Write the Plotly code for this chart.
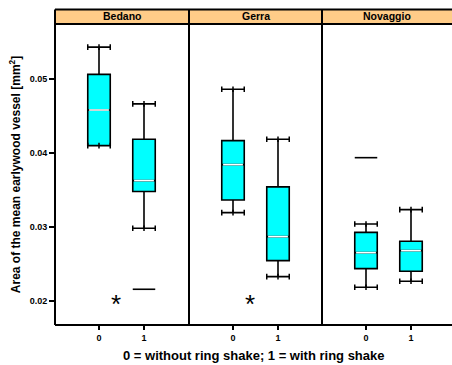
import plotly.graph_objects as go

sites = ["Bedano", "Gerra", "Novaggio"]
groups = [0, 1]
tick_labels = ["0", "1"]

# box statistics per site, order: group 0, group 1
lower = {"Bedano": [0.0410, 0.02985], "Gerra": [0.03196, 0.02332], "Novaggio": [0.02189, 0.0227]}
q1 = {"Bedano": [0.0410, 0.0348], "Gerra": [0.03367, 0.02548], "Novaggio": [0.02440, 0.02405]}
median = {"Bedano": [0.0458, 0.03628], "Gerra": [0.03843, 0.02872], "Novaggio": [0.02656, 0.02683]}
q3 = {"Bedano": [0.0506, 0.04186], "Gerra": [0.04167, 0.03543], "Novaggio": [0.0293, 0.0281]}
upper = {"Bedano": [0.05428, 0.04663], "Gerra": [0.0486, 0.04186], "Novaggio": [0.03043, 0.03236]}

# outliers: (site, group, value)
outlier_site = ["Bedano", "Novaggio"]
outlier_group = [1, 0]
outlier_value = [0.02162, 0.03937]

# significance markers
star_site = ["Bedano", "Gerra"]
star_x = [0.38, 0.37]
star_y = [0.0200, 0.0200]

y_ticks = [0.02, 0.03, 0.04, 0.05]
y_tick_text = ["0.02", "0.03", "0.04", "0.05"]

FONT = "Liberation Sans, Arial, sans-serif"
W, H = 452, 365
ML, MR, MT, MB = 55, 0, 24, 40
PW = W - ML - MR
PH = H - MT - MB
panel_px = [(0, 134), (134, 267), (267, PW)]
unit = 45.0
zero_off = 44.0

fig = go.Figure()
box_w = 0.5
for i, s in enumerate(sites):
    xa = "x" if i == 0 else f"x{i+1}"
    fig.add_trace(go.Box(
        x=groups, q1=q1[s], median=median[s], q3=q3[s],
        lowerfence=lower[s], upperfence=upper[s],
        width=box_w, whiskerwidth=1, boxpoints=False,
        fillcolor="#00FFFF", line=dict(color="black", width=1.6),
        xaxis=xa, yaxis="y", showlegend=False, hoverinfo="skip"))
    # white medians
    for g, m in zip(groups, median[s]):
        fig.add_trace(go.Scatter(
            x=[g - box_w / 2 + 0.03, g + box_w / 2 - 0.03], y=[m, m], mode="lines",
            line=dict(color="white", width=1.6), xaxis=xa, yaxis="y",
            showlegend=False, hoverinfo="skip"))
    # cap end ticks
    for g, lo, hi in zip(groups, lower[s], upper[s]):
        fig.add_trace(go.Scatter(
            x=[g - box_w / 2, g, g + box_w / 2] * 2,
            y=[hi] * 3 + [lo] * 3, mode="markers",
            marker=dict(symbol="line-ns", size=4, line=dict(color="black", width=1.5)),
            xaxis=xa, yaxis="y", showlegend=False, hoverinfo="skip"))

for s, g, v in zip(outlier_site, outlier_group, outlier_value):
    i = sites.index(s)
    xa = "x" if i == 0 else f"x{i+1}"
    fig.add_trace(go.Scatter(
        x=[g - box_w / 2, g + box_w / 2], y=[v, v], mode="lines",
        line=dict(color="black", width=1.6), xaxis=xa, yaxis="y",
        showlegend=False, hoverinfo="skip"))

for s, sx, sy in zip(star_site, star_x, star_y):
    i = sites.index(s)
    xa = "x" if i == 0 else f"x{i+1}"
    fig.add_annotation(
        x=sx, y=sy, xref=xa, yref="y", text="*", showarrow=False,
        font=dict(size=26, color="black", family=FONT),
        xanchor="center", yanchor="middle", yshift=-3)

layout = dict(
    width=W, height=H, margin=dict(l=ML, r=MR, t=MT, b=MB, autoexpand=False),
    paper_bgcolor="white", plot_bgcolor="white",
    font=dict(family=FONT, color="black"),
    yaxis=dict(range=[0.0168, 0.0574], tickvals=y_ticks,
               ticktext=[f"<b>{t}</b>" for t in y_tick_text],
               ticks="outside", ticklen=5, tickwidth=1.5, tickcolor="black",
               showgrid=False, zeroline=False, showline=False, automargin=False,
               tickfont=dict(size=9, family=FONT, color="black"),
               title=dict(text="<b>Area of the mean earlywood vessel [mm<sup>2</sup>]</b>",
                          font=dict(size=12, color="black"), standoff=6)),
    shapes=[], annotations=list(fig.layout.annotations),
)
for i, s in enumerate(sites):
    a, b = panel_px[i]
    key = "xaxis" if i == 0 else f"xaxis{i+1}"
    lo = -zero_off / unit
    hi = lo + (b - a) / unit
    layout[key] = dict(domain=[a / PW, b / PW], range=[lo, hi],
                       tickvals=groups, ticktext=[f"<b>{t}</b>" for t in tick_labels],
                       ticks="outside", ticklen=4, tickwidth=1.5, tickcolor="black",
                       showgrid=False, zeroline=False, showline=False, automargin=False,
                       tickfont=dict(size=9, color="black"), anchor="y")
    # strip header
    layout["shapes"].append(dict(type="rect", xref="paper", yref="paper",
                                 x0=a / PW, x1=b / PW, y0=1, y1=1 + 14.5 / PH,
                                 fillcolor="#FFCC88", line=dict(width=0), layer="below"))
    layout["annotations"].append(dict(text=f"<b>{s}</b>", xref="paper", yref="paper",
                                      x=(a + b) / 2 / PW, y=1 + 7.5 / PH, showarrow=False,
                                      font=dict(size=10.5, color="black"),
                                      xanchor="center", yanchor="middle"))

line = dict(color="black", width=2)
top = 1 + 14.5 / PH
for xp in [0, 134 / PW, 267 / PW]:
    layout["shapes"].append(dict(type="line", xref="paper", yref="paper", x0=xp, x1=xp,
                                 y0=0, y1=top, line=line))
for yp in [0, 1, top]:
    layout["shapes"].append(dict(type="line", xref="paper", yref="paper", x0=0, x1=1.01,
                                 y0=yp, y1=yp, line=line))

layout["annotations"].append(dict(text="<b>0 = without ring shake; 1 = with ring shake</b>",
                                  xref="paper", yref="paper", x=0.5, y=-30 / PH,
                                  showarrow=False, font=dict(size=13, color="black"),
                                  xanchor="center", yanchor="middle"))
fig.update_layout(**layout)
fig.write_html("out.html", config={"displayModeBar": False},
               post_script="document.body.style.margin='0px';document.body.style.overflow='hidden';")
